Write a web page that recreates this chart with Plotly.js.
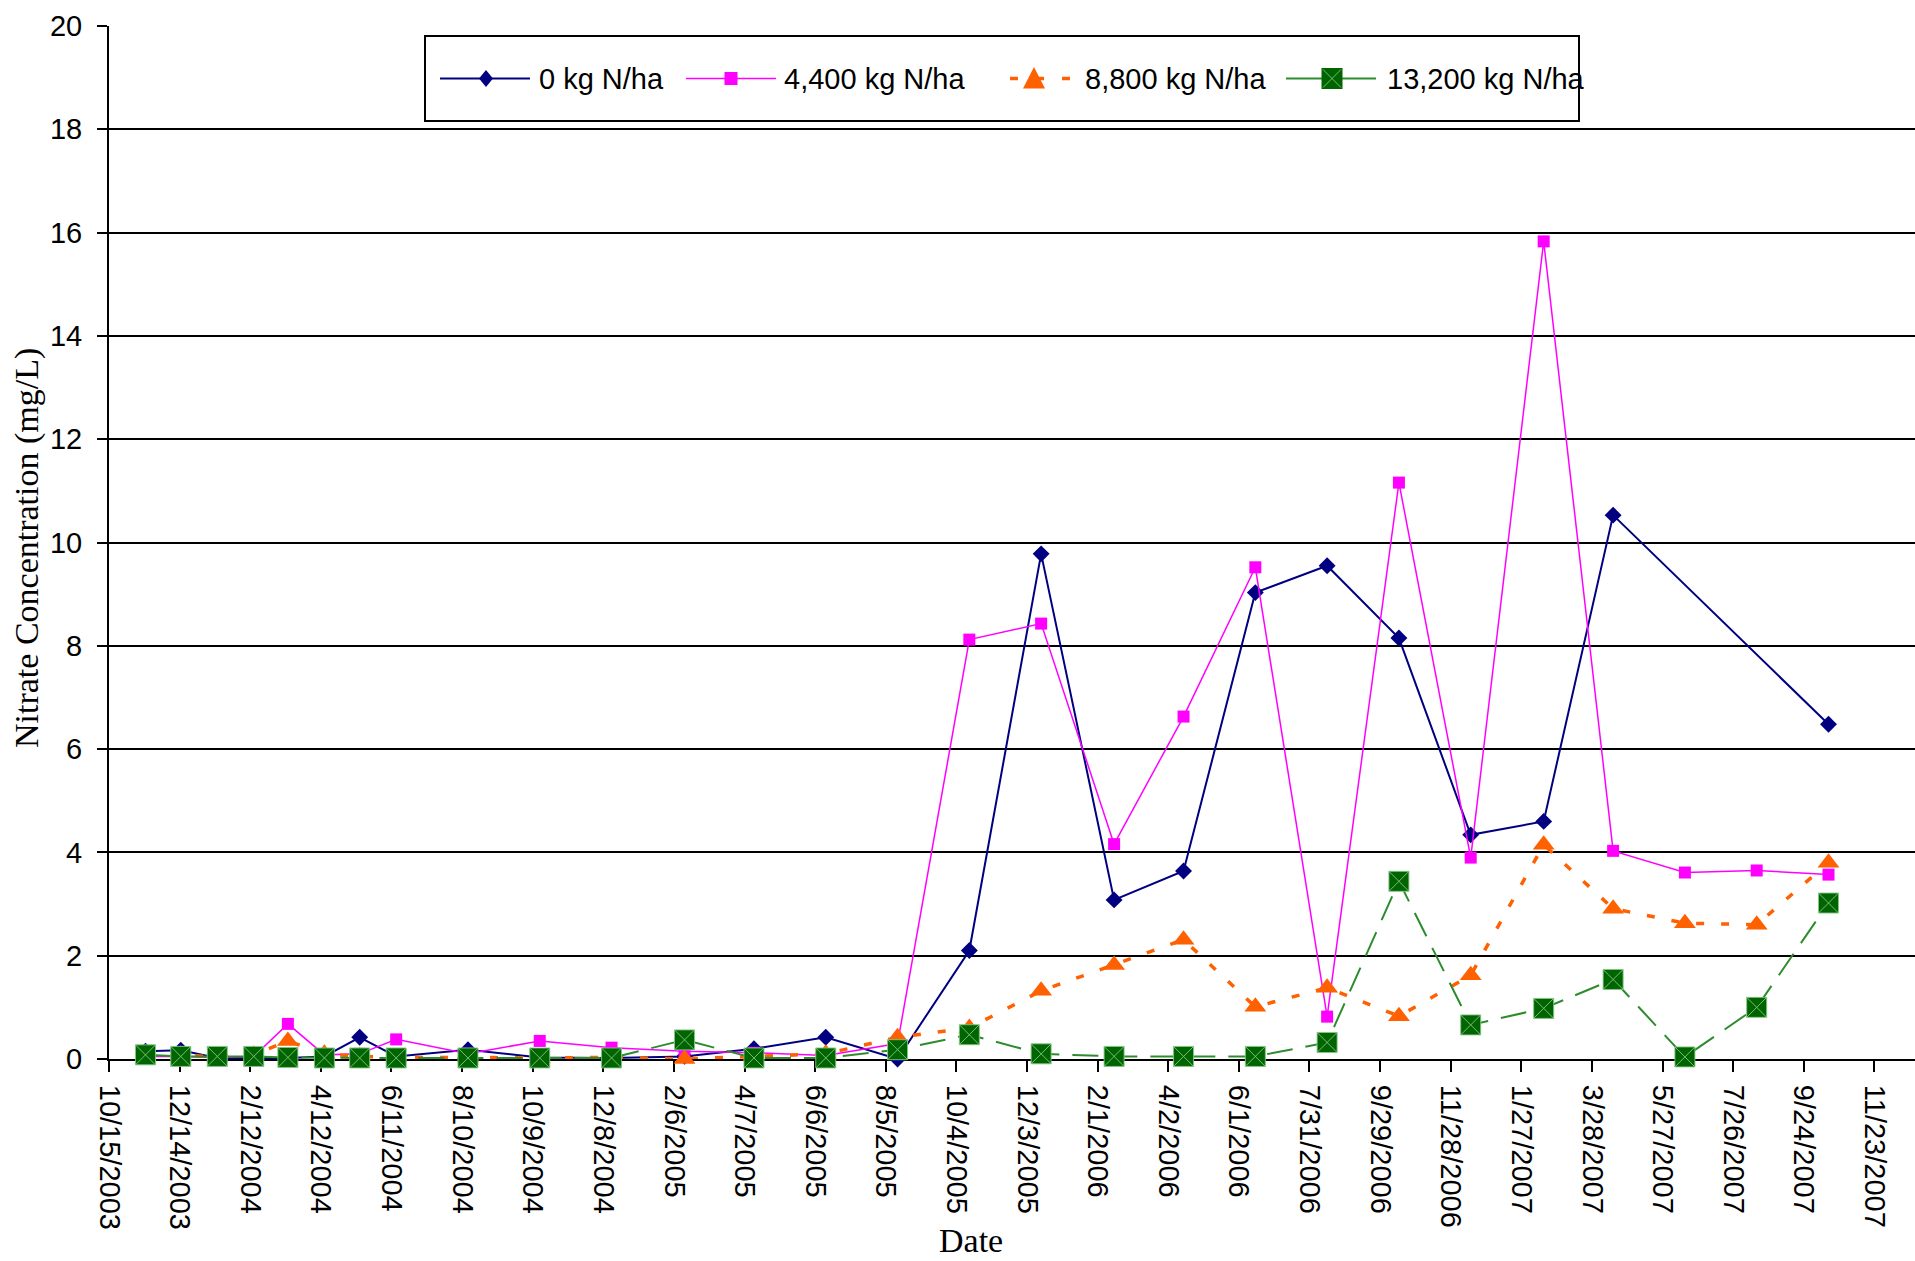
<!DOCTYPE html>
<html>
<head>
<meta charset="utf-8">
<script src="https://cdn.plot.ly/plotly-3.0.1.min.js"></script>
<style>
  html, body { margin: 0; padding: 0; background: #fff; }
  #chart { width: 1915px; height: 1261px; }
</style>
</head>
<body>
<div id="chart"></div>
<script>
// ---------------- data ----------------
const sampleDates = [
  '2003-11-15','2003-12-15','2004-01-15','2004-02-15','2004-03-15','2004-04-15',
  '2004-05-15','2004-06-15','2004-08-15','2004-10-15','2004-12-15','2005-02-15',
  '2005-04-15','2005-06-15','2005-08-15','2005-10-15','2005-12-15','2006-02-15',
  '2006-04-15','2006-06-15','2006-08-15','2006-10-15','2006-12-15','2007-02-15',
  '2007-04-15','2007-06-15','2007-08-15','2007-10-15'
];
const n0 = [0.15,0.17,0.02,0.02,0.02,0.05,0.42,0.05,0.18,0.03,0.02,0.05,
            0.20,0.42,0.00,2.10,9.78,3.08,3.64,9.03,9.55,8.15,4.34,4.60,
            10.53,null,null,6.48];
const n4400 = [0.05,0.05,0.03,0.05,0.68,0.08,0.10,0.38,0.10,0.35,0.22,0.15,
               0.12,0.07,0.30,8.12,8.43,4.16,6.63,9.52,0.82,11.16,3.90,15.83,
               4.03,3.61,3.65,3.57];
const n8800 = [0.00,0.08,0.04,0.08,0.35,0.10,0.05,0.03,0.03,0.02,0.03,0.00,
               0.05,0.10,0.42,0.60,1.32,1.82,2.31,1.01,1.38,0.83,1.62,4.15,
               2.91,2.63,2.60,3.80];
const n13200 = [0.08,0.05,0.05,0.05,0.03,0.02,0.02,0.02,0.02,0.02,0.02,0.37,
                0.02,0.02,0.18,0.47,0.10,0.05,0.05,0.05,0.32,3.44,0.66,0.98,
                1.54,0.04,1.00,3.02];
const seriesNames = ['0 kg N/ha','4,400 kg N/ha','8,800 kg N/ha','13,200 kg N/ha'];
const yTitle = 'Nitrate Concentration (mg/L)';
const xTitle = 'Date';

// ---------------- styles ----------------
const seriesValues = [n0, n4400, n8800, n13200];
const styles = [
  {color:'#000080', lw:2,   dash:'solid',     legDash:'solid',    sym:'diamond',  ms:13, mline:{width:0}},
  {color:'#FF00FF', lw:1.5, dash:'solid',     legDash:'solid',    sym:'square',   ms:12, mline:{width:0}},
  {color:'#FF6000', lw:3.5, dash:'8px,17px',  legDash:'8px,18px', sym:'triangle-up', ms:19, mline:{width:0}},
  {color:'#2E8B2E', lw:2,   dash:'26px,13px', legDash:'solid',    sym:'square-x', ms:20, mcolor:'#006400',
   mline:{width:1, color:'rgba(130,200,130,0.9)'}}
];

const traces = seriesValues.map((vals, i) => ({
  type: 'scatter', mode: 'lines+markers',
  x: sampleDates, y: vals, name: seriesNames[i],
  connectgaps: true, cliponaxis: false, showlegend: false,
  line: {color: styles[i].color, width: styles[i].lw, dash: styles[i].dash},
  marker: {symbol: styles[i].sym, size: styles[i].ms,
           color: styles[i].mcolor || styles[i].color, line: styles[i].mline}
}));

// ---------------- geometry ----------------
const W = 1915, H = 1261, ML = 109, MR = 0, MT = 26, MB = 202;
const PW = W - ML - MR, PH = H - MT - MB;
const px = x => (x - ML) / PW;
const py = y => (H - MB - y) / PH;

// ---------------- custom legend (layout decoration) ----------------
const shapes = [];
const annotations = [];
shapes.push({type:'rect', xref:'paper', yref:'paper', layer:'above',
  x0:px(425), x1:px(1579), y0:py(36), y1:py(121),
  line:{color:'#000', width:2}, fillcolor:'#fff'});
const legY = 78.5;
const legItems = [
  {l0:440, l1:530, mx:486, tx:537},
  {l0:686, l1:776, mx:731, tx:782},
  {l0:1010, l1:1075, mx:1034, tx:1083},
  {l0:1286, l1:1376, mx:1332, tx:1385}
];
function pathOf(pts) {
  return 'M' + pts.map(p => px(p[0]) + ',' + py(p[1])).join(' L') + ' Z';
}
legItems.forEach((it, i) => {
  const s = styles[i];
  shapes.push({type:'line', xref:'paper', yref:'paper', layer:'above',
    x0:px(it.l0), x1:px(it.l1), y0:py(legY), y1:py(legY),
    line:{color:s.color, width:s.lw, dash:s.legDash}});
  const cx = it.mx, cy = legY;
  let mk;
  if (i === 0) mk = pathOf([[cx, cy-8.5],[cx+7,cy],[cx,cy+8.5],[cx-7,cy]]);
  else if (i === 1) mk = pathOf([[cx-6.5,cy-6.5],[cx+6.5,cy-6.5],[cx+6.5,cy+6.5],[cx-6.5,cy+6.5]]);
  else if (i === 2) mk = pathOf([[cx,cy-11.5],[cx+11,cy+10],[cx-11,cy+10]]);
  else mk = pathOf([[cx-10.5,cy-10.5],[cx+10.5,cy-10.5],[cx+10.5,cy+10.5],[cx-10.5,cy+10.5]]);
  shapes.push({type:'path', xref:'paper', yref:'paper', layer:'above', path:mk,
    fillcolor: s.mcolor || s.color, line:{width:0}});
  if (i === 3) {
    shapes.push({type:'path', xref:'paper', yref:'paper', layer:'above',
      path:'M'+px(cx-9)+','+py(cy-9)+' L'+px(cx+9)+','+py(cy+9)+' M'+px(cx-9)+','+py(cy+9)+' L'+px(cx+9)+','+py(cy-9),
      line:{color:'rgba(130,200,130,0.9)', width:1}});
  }
  annotations.push({xref:'paper', yref:'paper', x:px(it.tx), y:py(legY),
    xanchor:'left', yanchor:'middle', showarrow:false, text:seriesNames[i],
    font:{family:'Liberation Sans, Arial, sans-serif', size:29, color:'#000'}});
});

// axis titles
annotations.push({xref:'paper', yref:'paper', x:px(27), y:py(548),
  xanchor:'center', yanchor:'middle', textangle:-90, showarrow:false, text:yTitle,
  font:{family:'Liberation Serif, Times New Roman, serif', size:34, color:'#000'}});
annotations.push({xref:'paper', yref:'paper', x:px(971), y:py(1261),
  xanchor:'center', yanchor:'bottom', showarrow:false, text:xTitle,
  font:{family:'Liberation Serif, Times New Roman, serif', size:34, color:'#000'}});

const layout = {
  width: W, height: H,
  margin: {l:ML, r:MR, t:MT, b:MB, pad:0},
  paper_bgcolor:'#fff', plot_bgcolor:'#fff',
  showlegend:false,
  xaxis: {
    type:'date', range:['2003-10-15','2007-12-27 12:00'],
    tick0:'2003-10-15', dtick: 60*86400000, tickformat:'%-m/%-d/%Y',
    tickangle:90, ticks:'outside', ticklen:11, tickwidth:2, tickcolor:'#000',
    ticklabelstandoff: 7,
    showgrid:false, zeroline:false, showline:true, linecolor:'#000', linewidth:2,
    layer:'below traces',
    tickfont:{family:'Liberation Sans, Arial, sans-serif', size:29, color:'#000'}
  },
  yaxis: {
    range:[0,20], dtick:2, tick0:0,
    ticks:'outside', ticklen:10, tickwidth:2, tickcolor:'#000',
    ticklabelstandoff: 9,
    showgrid:true, gridcolor:'#000', gridwidth:2,
    zeroline:false, showline:true, linecolor:'#000', linewidth:2,
    layer:'below traces',
    tickfont:{family:'Liberation Sans, Arial, sans-serif', size:29, color:'#000'}
  },
  shapes: shapes,
  annotations: annotations
};

Plotly.newPlot('chart', traces, layout, {staticPlot:true, displayModeBar:false});
</script>
</body>
</html>
